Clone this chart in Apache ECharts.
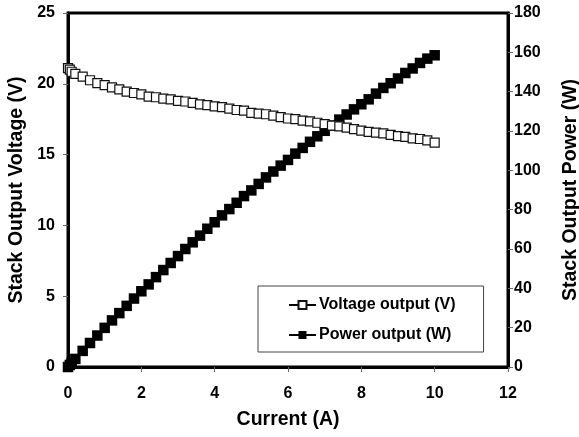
<!DOCTYPE html>
<html>
<head>
<meta charset="utf-8">
<script src="https://cdn.jsdelivr.net/npm/echarts@6/dist/echarts.min.js"></script>
<style>
  html, body { margin: 0; padding: 0; background: #fff; }
  #chart { width: 579px; height: 437px; }
</style>
</head>
<body>
<div id="chart"></div>
<script>
// Current (A)
var current = [0, 0.05, 0.1, 0.2, 0.4, 0.6, 0.8, 1.0, 1.2, 1.4, 1.6, 1.8, 2.0, 2.2, 2.4, 2.6, 2.8, 3.0,
  3.2, 3.4, 3.6, 3.8, 4.0, 4.2, 4.4, 4.6, 4.8, 5.0, 5.2, 5.4, 5.6, 5.8, 6.0, 6.2, 6.4, 6.6, 6.8,
  7.0, 7.2, 7.4, 7.6, 7.8, 8.0, 8.2, 8.4, 8.6, 8.8, 9.0, 9.2, 9.4, 9.6, 9.8, 10.0];
// Stack output voltage (V)
var voltage = [21.1, 21.0, 20.85, 20.7, 20.5, 20.25, 20.05, 19.9, 19.75, 19.6, 19.45, 19.35, 19.25, 19.1,
  19.05, 18.95, 18.9, 18.8, 18.75, 18.65, 18.55, 18.5, 18.4, 18.35, 18.25, 18.15, 18.1, 17.95,
  17.9, 17.85, 17.75, 17.65, 17.55, 17.5, 17.4, 17.35, 17.25, 17.15, 17.05, 17.0, 16.9, 16.8,
  16.7, 16.6, 16.55, 16.5, 16.4, 16.3, 16.25, 16.15, 16.1, 16.0, 15.85];
// Stack output power (W)
var power = [0, 1.05, 2.1, 4.1, 8.2, 12.2, 16.0, 19.9, 23.7, 27.4, 31.1, 34.8, 38.5, 42.0, 45.7,
  49.3, 52.9, 56.4, 60.0, 63.4, 66.8, 70.3, 73.6, 77.1, 80.3, 83.5, 86.9, 89.8, 93.1, 96.4, 99.4,
  102.4, 105.3, 108.5, 111.4, 114.5, 117.3, 120.1, 122.8, 125.8, 128.4, 131.0, 133.6, 136.1,
  139.0, 141.9, 144.3, 146.7, 149.5, 151.8, 154.6, 156.8, 158.5];
var xTicks = { min: 0, max: 12, interval: 2 };
var yLeftTicks = { min: 0, max: 25, interval: 5 };
var yRightTicks = { min: 0, max: 180, interval: 20 };

var FONT = '"Liberation Sans", Arial, Helvetica, sans-serif';
var chart = echarts.init(document.getElementById('chart'), null, { renderer: 'canvas' });

function pairs(xs, ys) {
  return xs.map(function (x, i) { return [x, ys[i]]; });
}

var labelStyle = { color: '#000', fontFamily: FONT, fontWeight: 'bold', fontSize: 16 };
var nameStyle = { color: '#000', fontFamily: FONT, fontWeight: 'bold', fontSize: 19.5 };

chart.setOption({
  animation: false,
  backgroundColor: '#fff',
  grid: {
    left: 68, right: 71, top: 13, bottom: 70,
    outerBoundsMode: 'none', containLabel: false,
    show: true, borderColor: '#000', borderWidth: 3, backgroundColor: 'transparent'
  },
  legend: {
    left: 258, top: 286, width: 223,
    orient: 'vertical',
    backgroundColor: '#fff',
    borderColor: '#444', borderWidth: 1,
    padding: [11, 28, 9, 30],
    itemGap: 14,
    itemWidth: 27, itemHeight: 10,
    textStyle: { color: '#000', fontFamily: FONT, fontWeight: 'bold', fontSize: 16, padding: [0, 0, 0, -2] },
    data: ['Voltage output (V)', 'Power output (W)']
  },
  xAxis: {
    type: 'value',
    min: xTicks.min, max: xTicks.max, interval: xTicks.interval,
    name: 'Current (A)', nameLocation: 'middle', nameGap: 43,
    nameTextStyle: nameStyle,
    axisLine: { show: true, onZero: false, lineStyle: { color: '#000', width: 3 } },
    axisTick: { show: true, inside: false, length: 5, lineStyle: { color: '#666', width: 1 } },
    axisLabel: Object.assign({ margin: 19 }, labelStyle),
    splitLine: { show: false }
  },
  yAxis: [
    {
      type: 'value', position: 'left',
      min: yLeftTicks.min, max: yLeftTicks.max, interval: yLeftTicks.interval,
      name: 'Stack Output Voltage (V)', nameLocation: 'middle', nameGap: 38, nameRotate: 90,
      nameTextStyle: nameStyle,
      axisLine: { show: true, onZero: false, lineStyle: { color: '#000', width: 3 } },
      axisTick: { show: true, length: 5, lineStyle: { color: '#666', width: 1 } },
      axisLabel: Object.assign({ margin: 13 }, labelStyle),
      splitLine: { show: false }
    },
    {
      type: 'value', position: 'right',
      min: yRightTicks.min, max: yRightTicks.max, interval: yRightTicks.interval,
      name: 'Stack Output Power (W)', nameLocation: 'middle', nameGap: 53, nameRotate: 90,
      nameTextStyle: nameStyle,
      axisLine: { show: true, onZero: false, lineStyle: { color: '#000', width: 3 } },
      axisTick: { show: true, length: 5, lineStyle: { color: '#666', width: 1 } },
      axisLabel: Object.assign({ margin: 6 }, labelStyle),
      splitLine: { show: false }
    }
  ],
  series: [
    {
      name: 'Power output (W)', type: 'line', yAxisIndex: 1,
      data: pairs(current, power),
      symbol: 'rect', symbolSize: 10.5,
      itemStyle: { color: '#000', borderColor: '#000', borderWidth: 0 },
      lineStyle: { color: '#000', width: 1.5 },
      z: 2
    },
    {
      name: 'Voltage output (V)', type: 'line', yAxisIndex: 0,
      data: pairs(current, voltage),
      symbol: 'rect', symbolSize: 9,
      itemStyle: { color: '#fff', borderColor: '#111', borderWidth: 1.2 },
      lineStyle: { color: '#000', width: 1.5 },
      z: 3
    }
  ]
});
</script>
</body>
</html>
